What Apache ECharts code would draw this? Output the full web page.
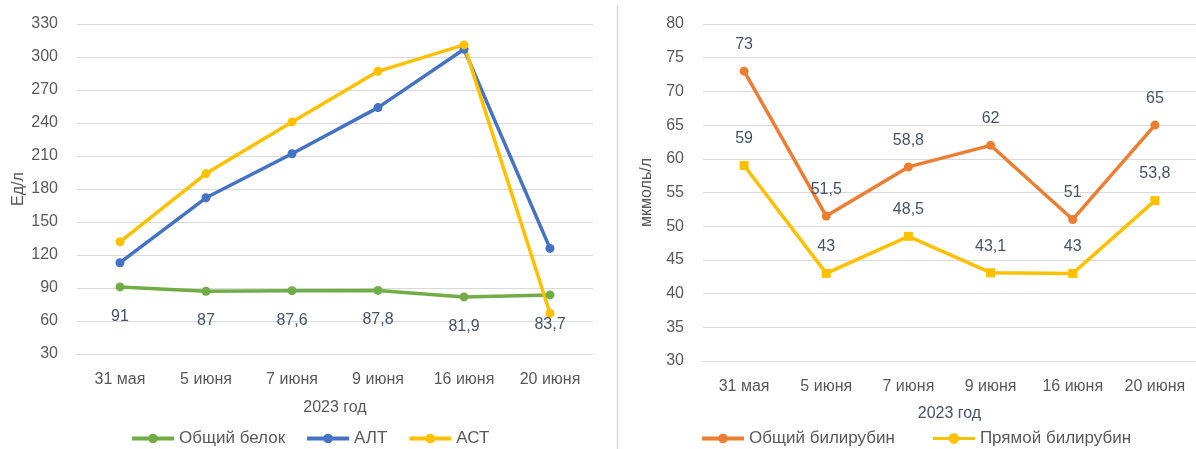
<!DOCTYPE html>
<html>
<head>
<meta charset="utf-8">
<script src="https://cdn.jsdelivr.net/npm/echarts@6/dist/echarts.min.js"></script>
<style>
  html, body { margin: 0; padding: 0; background: #fff; }
  #chart { width: 1196px; height: 449px; }
</style>
</head>
<body>
<div id="chart"></div>
<script>
// Dates of the blood tests
const categories = ['31 мая', '5 июня', '7 июня', '9 июня', '16 июня', '20 июня'];

// Left panel: enzymes and protein (Ед/л)
const totalProtein = [91, 87, 87.6, 87.8, 81.9, 83.7];
const alt = [113, 172, 212, 254, 307, 126];
const ast = [132, 194, 241, 287, 311, 67];

// Right panel: bilirubin (мкмоль/л)
const totalBilirubin = [73, 51.5, 58.8, 62, 51, 65];
const directBilirubin = [59, 43, 48.5, 43.1, 43, 53.8];

const FONT = 'Liberation Sans';
const TICK = '#595959';
const LABEL = '#44546A';
const GRID = '#d9d9d9';

// legend key: a short line with a round marker in the middle
const LINE_DOT_ICON = 'path://M0,4H15.2A5,5 0 0 1 24.8,4H40V7H24.8A5,5 0 0 1 15.2,7H0Z';

const fmt = v => String(v).replace('.', ',');

function lineSeries(name, data, color, xi, symbol, label) {
  return {
    name, type: 'line', data,
    xAxisIndex: xi, yAxisIndex: xi,
    symbol: symbol, symbolSize: 9,
    lineStyle: { color, width: 3.5 },
    itemStyle: { color },
    label: label ? Object.assign({
      show: true, fontFamily: FONT, fontSize: 16, color: LABEL,
      formatter: p => fmt(p.value)
    }, label) : { show: false },
    z: 3
  };
}

function catAxis(gi, nameGap) {
  return {
    type: 'category', gridIndex: gi, data: categories,
    boundaryGap: true,
    axisLine: { show: true, lineStyle: { color: GRID } },
    axisTick: { show: false },
    axisLabel: { fontFamily: FONT, fontSize: 16, color: TICK, margin: 18 },
    name: '2023 год', nameLocation: 'middle', nameGap,
    nameTextStyle: { fontFamily: FONT, fontSize: 16, color: gi === 0 ? TICK : LABEL }
  };
}

function valAxis(gi, min, max, interval, name, nameGap) {
  return {
    type: 'value', gridIndex: gi, min, max, interval,
    axisLine: { show: false }, axisTick: { show: false },
    splitLine: { lineStyle: { color: GRID, width: 1.2 } },
    axisLabel: { fontFamily: FONT, fontSize: 16, color: TICK, margin: 19 },
    name, nameLocation: 'middle', nameGap, nameRotate: 90,
    nameTextStyle: { fontFamily: FONT, fontSize: 16, color: TICK }
  };
}

const legendBase = {
  top: 430, padding: 0, itemWidth: 42, itemHeight: 12, itemGap: 20,
  lineStyle: { width: 4 },
  textStyle: { fontFamily: FONT, fontSize: 17, color: TICK }
};

const chart = echarts.init(document.getElementById('chart'), null, { renderer: 'canvas' });

chart.setOption({
  backgroundColor: '#fff',
  animation: false,
  grid: [
    { left: 77, top: 24, width: 516, height: 330 },
    { left: 703, top: 24, width: 500, height: 337 }
  ],
  xAxis: [catAxis(0, 46), catAxis(1, 45)],
  yAxis: [
    valAxis(0, 30, 330, 30, 'Ед/л', 50),
    valAxis(1, 30, 80, 5, 'мкмоль/л', 48)
  ],
  legend: [
    Object.assign({}, legendBase, {
      left: 130,
      data: ['Общий белок', 'АЛТ', 'АСТ']
    }),
    Object.assign({}, legendBase, {
      left: 700, itemGap: 38,
      data: ['Общий билирубин', { name: 'Прямой билирубин', icon: LINE_DOT_ICON }]
    })
  ],
  graphic: [
    {
      type: 'line', silent: true,
      shape: { x1: 617.5, y1: 5, x2: 617.5, y2: 449 },
      style: { stroke: GRID, lineWidth: 1.5 }
    }
  ],
  series: [
    lineSeries('Общий белок', totalProtein, '#70AD47', 0, 'circle', { position: 'bottom', distance: 17 }),
    lineSeries('АЛТ', alt, '#4472C4', 0, 'circle', null),
    lineSeries('АСТ', ast, '#FFC000', 0, 'circle', null),
    lineSeries('Общий билирубин', totalBilirubin, '#ED7D31', 1, 'circle', { position: 'top', distance: 14 }),
    lineSeries('Прямой билирубин', directBilirubin, '#FFC000', 1, 'rect', { position: 'top', distance: 14 })
  ]
});
</script>
</body>
</html>
